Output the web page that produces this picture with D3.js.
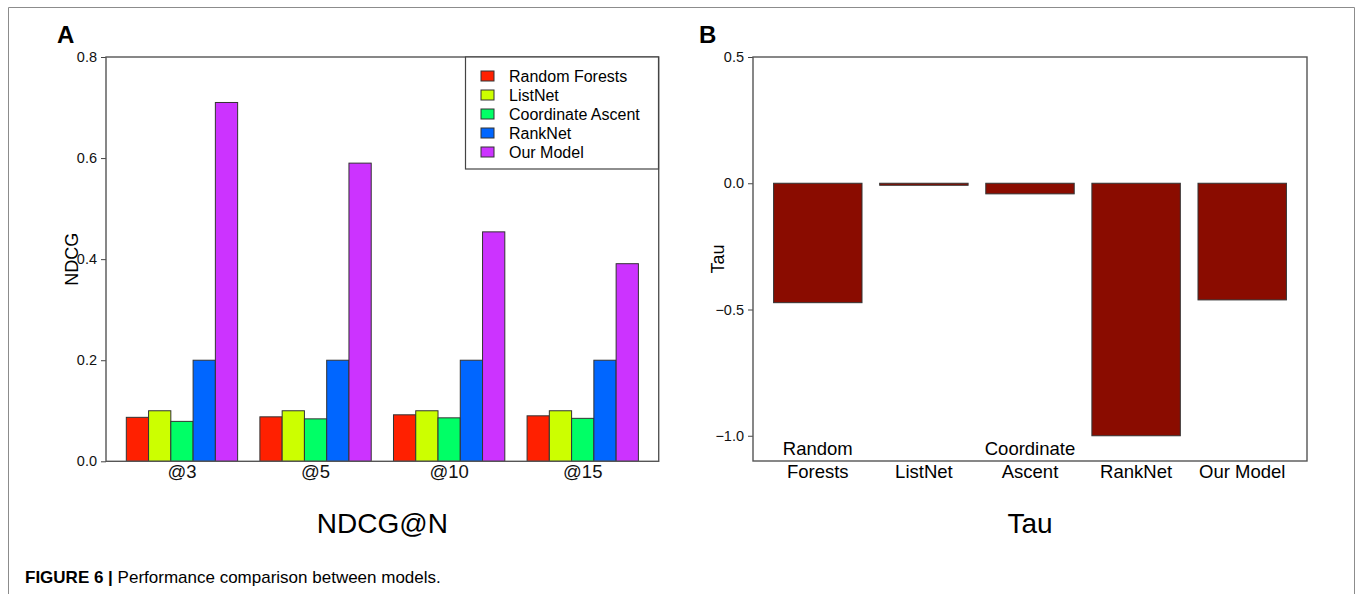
<!DOCTYPE html>
<html lang="en">
  <head>
    <meta charset="utf-8">
    <style>
      body { margin: 0; background: #fff; }
      svg { display: block; font-family: "Liberation Sans", Arial, Helvetica, sans-serif; }
      .tick text { font-size: 14.5px; fill: #111; }
      .frame { stroke: #8c8c8c; stroke-width: 1; fill: none; }
      .box { stroke: #555; stroke-width: 1.4; fill: none; }
    </style>
  </head>
  <body>
    <svg id="fig" width="1355" height="594"></svg>

    <script src="https://cdn.jsdelivr.net/npm/d3@7"></script>
    <script>
      // Panel A: NDCG@N
      var cutoffs = ["@3", "@5", "@10", "@15"];
      var models = ["Random Forests", "ListNet", "Coordinate Ascent", "RankNet", "Our Model"];
      var colors = ["#ff2000", "#ccff00", "#00ff66", "#0066ff", "#cc33ff"];
      var ndcgRandomForests = [0.087, 0.088, 0.092, 0.090];
      var ndcgListNet = [0.100, 0.100, 0.100, 0.100];
      var ndcgCoordAscent = [0.079, 0.084, 0.086, 0.085];
      var ndcgRankNet = [0.200, 0.200, 0.200, 0.200];
      var ndcgOurModel = [0.710, 0.590, 0.454, 0.391];
      var ndcgTicks = [0.0, 0.2, 0.4, 0.6, 0.8];

      // Panel B: Tau
      var tauLabels = [["Random", "Forests"], ["ListNet"], ["Coordinate", "Ascent"], ["RankNet"], ["Our Model"]];
      var tauValues = [-0.473, -0.008, -0.042, -1.0, -0.462];
      var tauTicks = [0.5, 0.0, -0.5, -1.0];

      var ndcgSeries = [ndcgRandomForests, ndcgListNet, ndcgCoordAscent, ndcgRankNet, ndcgOurModel];

      var svg = d3.select("#fig");

      // outer figure frame
      svg.append("path")
        .attr("class", "frame")
        .attr("d", "M8.5,594 V7.5 H1354.5 V594");

      /* ---------- Panel A ---------- */
      var A = { left: 106, right: 658.7, top: 57, bottom: 461.3 };

      var x0 = d3.scaleBand()
        .domain(cutoffs)
        .range([A.left, A.right])
        .paddingInner(1 / 6)
        .paddingOuter(0.152);

      var x1 = d3.scaleBand()
        .domain(models)
        .range([0, x0.bandwidth()]);

      var yA = d3.scaleLinear().domain([0, 0.8]).range([A.bottom, A.top]);

      var gA = svg.append("g");

      var groups = gA.selectAll("g.grp")
        .data(cutoffs)
        .enter()
        .append("g")
        .attr("class", "grp")
        .attr("transform", function(d) { return "translate(" + x0(d) + ",0)"; });

      groups.selectAll("rect")
        .data(function(d, i) {
          return models.map(function(m, j) { return { model: m, value: ndcgSeries[j][i], color: colors[j] }; });
        })
        .enter()
        .append("rect")
        .attr("x", function(d) { return x1(d.model); })
        .attr("y", function(d) { return yA(d.value); })
        .attr("width", x1.bandwidth())
        .attr("height", function(d) { return yA(0) - yA(d.value); })
        .style("fill", function(d) { return d.color; })
        .style("stroke", "#333")
        .style("stroke-width", 1);

      var axA = d3.axisLeft(yA)
        .tickValues(ndcgTicks)
        .tickSize(5)
        .tickPadding(4)
        .tickFormat(d3.format(".1f"));

      gA.append("g")
        .attr("transform", "translate(" + A.left + ",0)")
        .call(axA)
        .call(function(g) {
          g.select(".domain").remove();
          g.selectAll(".tick line").attr("stroke", "#444");
        });

      gA.append("rect")
        .attr("class", "box")
        .attr("x", A.left).attr("y", A.top)
        .attr("width", A.right - A.left).attr("height", A.bottom - A.top);

      var axAx = d3.axisBottom(x0).tickSize(0).tickPadding(0);
      gA.append("g")
        .attr("transform", "translate(0," + A.bottom + ")")
        .call(axAx)
        .call(function(g) {
          g.select(".domain").remove();
          g.selectAll(".tick text")
            .attr("dy", null)
            .attr("y", 17)
            .style("font-size", "18.5px");
        });

      gA.append("text")
        .attr("x", (A.left + A.right) / 2)
        .attr("y", 533)
        .attr("text-anchor", "middle")
        .style("font-size", "28px")
        .text("NDCG@N");

      gA.append("text")
        .attr("transform", "translate(78," + ((A.top + A.bottom) / 2) + ") rotate(-90)")
        .attr("text-anchor", "middle")
        .style("font-size", "18px")
        .text("NDCG");

      gA.append("text")
        .attr("x", 57).attr("y", 43)
        .style("font-size", "24px")
        .style("font-weight", "bold")
        .text("A");

      // legend
      var leg = gA.append("g");
      leg.append("rect")
        .attr("x", 465.5).attr("y", 57)
        .attr("width", 193).attr("height", 112)
        .style("fill", "#fff")
        .style("stroke", "#444")
        .style("stroke-width", 1.2);

      var items = leg.selectAll("g.item")
        .data(models)
        .enter()
        .append("g")
        .attr("class", "item")
        .attr("transform", function(d, i) { return "translate(481," + (76 + i * 19) + ")"; });

      items.append("rect")
        .attr("x", 0).attr("y", -5)
        .attr("width", 13).attr("height", 10)
        .style("fill", function(d, i) { return colors[i]; })
        .style("stroke", "#333")
        .style("stroke-width", 1);

      items.append("text")
        .attr("x", 28).attr("y", 5.5)
        .style("font-size", "16px")
        .text(function(d) { return d; });

      /* ---------- Panel B ---------- */
      var B = { left: 753, right: 1307, top: 57, bottom: 461 };

      var xB = d3.scaleBand()
        .domain(d3.range(tauValues.length))
        .range([B.left, B.right])
        .paddingInner(1 / 6)
        .paddingOuter(0.194);

      var yB = d3.scaleLinear().domain([-1.1, 0.5]).range([B.bottom, B.top]);

      var gB = svg.append("g");

      gB.selectAll("rect.tau")
        .data(tauValues)
        .enter()
        .append("rect")
        .attr("class", "tau")
        .attr("x", function(d, i) { return xB(i); })
        .attr("y", function(d) { return yB(Math.max(0, d)); })
        .attr("width", xB.bandwidth())
        .attr("height", function(d) { return Math.abs(yB(d) - yB(0)); })
        .style("fill", "#8a0c00")
        .style("stroke", "#333")
        .style("stroke-width", 1);

      var axB = d3.axisLeft(yB)
        .tickValues(tauTicks)
        .tickSize(5)
        .tickPadding(4)
        .tickFormat(function(d) { return d3.format(".1f")(d).replace("-", "\u2212"); });

      gB.append("g")
        .attr("transform", "translate(" + B.left + ",0)")
        .call(axB)
        .call(function(g) {
          g.select(".domain").remove();
          g.selectAll(".tick line").attr("stroke", "#444");
        });

      gB.append("rect")
        .attr("class", "box")
        .attr("x", B.left).attr("y", B.top)
        .attr("width", B.right - B.left).attr("height", B.bottom - B.top);

      gB.selectAll("text.cat")
        .data(tauLabels)
        .enter()
        .append("text")
        .attr("class", "cat")
        .attr("text-anchor", "middle")
        .style("font-size", "18.5px")
        .each(function(lines, i) {
          var t = d3.select(this);
          var cx = xB(i) + xB.bandwidth() / 2;
          lines.forEach(function(line, k) {
            t.append("tspan")
              .attr("x", cx)
              .attr("y", 478 - (lines.length - 1 - k) * 23)
              .text(line);
          });
        });

      gB.append("text")
        .attr("x", (B.left + B.right) / 2)
        .attr("y", 533)
        .attr("text-anchor", "middle")
        .style("font-size", "28px")
        .text("Tau");

      gB.append("text")
        .attr("transform", "translate(724," + ((B.top + B.bottom) / 2) + ") rotate(-90)")
        .attr("text-anchor", "middle")
        .style("font-size", "18px")
        .text("Tau");

      gB.append("text")
        .attr("x", 699).attr("y", 43)
        .style("font-size", "24px")
        .style("font-weight", "bold")
        .text("B");

      // caption
      var cap = svg.append("text")
        .attr("x", 25).attr("y", 583)
        .style("font-size", "17px");
      cap.append("tspan").style("font-weight", "bold").text("FIGURE 6 | ");
      cap.append("tspan").text("Performance comparison between models.");
    </script>
  </body>
</html>
